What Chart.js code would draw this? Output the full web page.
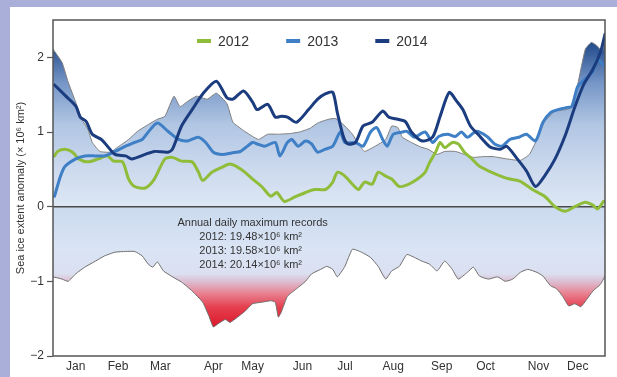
<!DOCTYPE html>
<html>
<head>
<meta charset="utf-8">
<script src="https://cdn.jsdelivr.net/npm/chart.js@4.4.1/dist/chart.umd.min.js"></script>
<style>
  html, body { margin: 0; padding: 0; background: #a9afd9; }
  body { width: 617px; height: 377px; position: relative; overflow: hidden; }
  #panel { position: absolute; left: 10px; top: 7px; width: 607px; height: 370px; background: #fff; }
</style>
</head>
<body>
<div id="panel"><canvas id="iceChart" width="607" height="370"></canvas></div>
<script>
// day of year -> extent anomaly (10^6 km^2)
const day2012 = [1,3,8,13,17,23,30,36,40,46,50,54,61,67,74,79,85,92,96,99,105,112,117,122,127,132,138,144,148,153,160,167,173,180,185,188,193,198,202,206,211,215,220,224,229,235,241,246,249,253,256,259,264,268,272,277,282,289,296,302,309,317,325,332,339,345,352,357,360,364];
const anom2012 = [0.68,0.74,0.77,0.73,0.64,0.60,0.64,0.68,0.61,0.60,0.37,0.27,0.25,0.37,0.64,0.66,0.61,0.60,0.47,0.35,0.46,0.53,0.57,0.53,0.46,0.37,0.27,0.14,0.19,0.07,0.13,0.19,0.23,0.23,0.33,0.46,0.41,0.30,0.23,0.33,0.30,0.46,0.41,0.37,0.27,0.30,0.37,0.46,0.59,0.73,0.86,0.79,0.86,0.84,0.73,0.64,0.54,0.47,0.41,0.37,0.34,0.23,0.14,0.00,-0.06,0.00,0.06,0.02,-0.03,0.07];

const day2013 = [1,5,8,15,21,28,34,41,48,54,59,63,69,76,83,89,96,101,106,112,118,124,132,135,140,147,150,155,158,162,167,171,175,180,185,190,193,200,205,210,214,218,221,225,231,234,239,246,251,255,261,266,270,274,280,287,292,297,302,308,313,319,324,329,334,340,343,347,352,357,360,364];
const anom2013 = [0.14,0.41,0.54,0.64,0.68,0.68,0.68,0.74,0.81,0.86,0.90,1.00,1.12,1.01,0.90,0.88,0.93,0.86,0.73,0.70,0.72,0.74,0.86,0.84,0.81,0.86,0.68,0.86,0.90,0.81,0.88,0.84,0.73,0.77,0.81,1.00,0.86,0.86,0.81,1.00,1.06,0.90,0.81,0.97,1.00,1.01,0.93,1.00,0.86,0.94,0.97,0.94,1.00,0.93,1.01,0.94,0.84,0.81,0.90,0.93,0.97,0.88,1.13,1.26,1.30,1.33,1.34,1.61,1.71,1.81,1.97,1.90];

const day2014 = [1,8,15,18,22,26,32,36,41,48,52,61,67,76,79,85,92,99,108,115,119,126,132,135,142,147,151,155,161,169,175,180,185,188,192,195,200,205,211,218,222,228,233,237,244,251,256,262,267,271,276,281,289,296,300,307,313,319,325,332,339,345,351,357,362,365];
const anom2014 = [1.63,1.49,1.35,1.20,1.14,0.97,0.90,0.81,0.70,0.68,0.64,0.70,0.74,0.73,0.77,1.08,1.30,1.51,1.68,1.46,1.44,1.55,1.40,1.30,1.37,1.20,1.21,1.20,1.13,1.30,1.44,1.51,1.53,1.26,0.94,0.84,0.86,1.08,1.13,1.28,1.20,1.17,1.14,1.00,0.88,0.93,1.21,1.53,1.41,1.30,1.08,0.97,0.80,0.77,0.81,0.64,0.48,0.27,0.41,0.64,0.97,1.33,1.64,1.84,2.07,2.31];

// highest and lowest daily anomaly on record
const dayHigh = [0,6,10,15,19,23,26,31,38,43,50,56,63,69,74,80,84,89,95,102,108,115,119,126,132,136,142,149,157,163,170,175,182,187,193,198,202,206,213,220,224,228,231,237,243,248,254,259,266,272,278,284,291,300,309,315,320,325,332,339,343,347,352,356,360,363,365];
const highRecord = [2.11,1.93,1.67,1.40,1.17,1.04,0.86,0.74,0.73,0.80,0.90,1.01,1.10,1.17,1.21,1.48,1.34,1.41,1.48,1.44,1.52,1.38,1.13,1.02,0.94,0.90,0.97,0.97,0.98,1.00,1.05,1.12,1.17,1.18,1.08,0.97,0.84,0.74,0.81,0.90,1.08,1.06,0.93,0.86,0.80,0.77,0.70,0.74,0.74,0.70,0.66,0.67,0.67,0.64,0.62,0.70,0.90,1.14,1.28,1.30,1.33,1.64,2.11,2.20,2.15,2.08,2.21];

const dayLow = [0,6,10,15,21,28,34,41,48,54,59,63,66,69,73,79,85,92,99,103,106,109,114,117,122,127,132,138,144,147,149,151,155,161,167,171,177,181,185,188,193,198,204,210,215,220,224,229,234,239,244,249,254,259,264,268,274,278,282,288,294,299,304,309,314,320,324,329,333,337,341,345,349,353,357,362,365];
const lowRecord = [-0.94,-0.97,-1.00,-0.90,-0.81,-0.73,-0.66,-0.61,-0.60,-0.60,-0.66,-0.77,-0.81,-0.74,-0.86,-0.94,-1.01,-1.13,-1.28,-1.46,-1.61,-1.57,-1.51,-1.55,-1.48,-1.40,-1.30,-1.28,-1.26,-1.28,-1.48,-1.41,-1.20,-1.10,-1.00,-0.90,-0.84,-0.80,-0.84,-0.94,-0.80,-0.57,-0.61,-0.68,-0.80,-0.97,-0.86,-0.80,-0.64,-0.68,-0.73,-0.77,-0.86,-0.73,-0.84,-0.97,-0.88,-0.81,-0.93,-0.97,-0.94,-1.00,-0.97,-0.88,-0.84,-0.88,-0.93,-1.06,-1.10,-1.20,-1.33,-1.30,-1.34,-1.24,-1.13,-1.04,-0.93];

const monthNames = ['Jan','Feb','Mar','Apr','May','Jun','Jul','Aug','Sep','Oct','Nov','Dec'];
const monthPos = [15,43,71,106,132,165,193,225,257,286,321,347];
const yTicks = [2, 1, 0, -1, -2];

const recordYears = ['2012', '2013', '2014'];
const recordMax = [19.48, 19.58, 20.14];

const toPoints = (days, vals) => days.map((d, i) => ({ x: d, y: vals[i] }));

const FONT = "'Liberation Sans', Arial, sans-serif";
Chart.defaults.font.family = FONT;
Chart.defaults.color = '#333';

function highFill(context) {
  const { ctx, chartArea, scales } = context.chart;
  if (!chartArea) return 'rgba(180,200,228,0.8)';
  const y = scales.y;
  const g = ctx.createLinearGradient(0, y.getPixelForValue(2.2), 0, y.getPixelForValue(0));
  g.addColorStop(0, '#21498a');
  g.addColorStop(0.25, '#7797c8');
  g.addColorStop(0.5, '#b1c6e3');
  g.addColorStop(0.78, '#cddaee');
  g.addColorStop(1, '#dde7f4');
  return g;
}

function lowFill(context) {
  const { ctx, chartArea, scales } = context.chart;
  if (!chartArea) return 'rgba(210,222,240,0.8)';
  const y = scales.y;
  const g = ctx.createLinearGradient(0, y.getPixelForValue(0), 0, y.getPixelForValue(-1.6));
  g.addColorStop(0, '#cbdaef');
  g.addColorStop(0.35, '#d9e4f4');
  g.addColorStop(0.56, '#dbe0f1');
  g.addColorStop(0.63, '#dcbcd0');
  g.addColorStop(0.72, '#e88595');
  g.addColorStop(0.84, '#e5404f');
  g.addColorStop(1, '#dc1a2c');
  return g;
}

// zero line goes above the envelopes, below the yearly lines
const zeroLine = {
  id: 'zeroLine',
  afterDatasetDraw(chart, args) {
    if (args.index !== 4) return;
    const { ctx, chartArea, scales } = chart;
    const y0 = scales.y.getPixelForValue(0);
    ctx.save();
    ctx.strokeStyle = '#4a4a4a';
    ctx.lineWidth = 1.5;
    ctx.beginPath();
    ctx.moveTo(chartArea.left, y0);
    ctx.lineTo(chartArea.right, y0);
    ctx.stroke();
    ctx.restore();
  }
};

// box around the plot, the legend row and the record note
const frameAndNote = {
  id: 'frameAndNote',
  afterDatasetsDraw(chart) {
    const { ctx, chartArea, scales } = chart;
    ctx.save();
    ctx.strokeStyle = '#555';
    ctx.lineWidth = 1.5;
    ctx.strokeRect(chartArea.left, chartArea.top, chartArea.right - chartArea.left, chartArea.bottom - chartArea.top);

    // legend: short thick stroke then the year
    ctx.font = '14px ' + FONT;
    ctx.textAlign = 'left';
    ctx.textBaseline = 'middle';
    let lx = chartArea.left + 144;
    const ly = chartArea.top + 21;
    chart.data.datasets.slice(0, 3).forEach(ds => {
      ctx.strokeStyle = ds.borderColor;
      ctx.lineWidth = 4;
      ctx.lineCap = 'butt';
      ctx.beginPath();
      ctx.moveTo(lx, ly);
      ctx.lineTo(lx + 14, ly);
      ctx.stroke();
      ctx.fillStyle = '#333';
      ctx.fillText(ds.label, lx + 21, ly + 1);
      lx += 21 + ctx.measureText(ds.label).width + 37;
    });

    const cx = scales.x.getPixelForValue(132);
    let y = scales.y.getPixelForValue(0) + 16;
    ctx.fillStyle = '#333';
    ctx.font = '11px ' + FONT;
    ctx.textAlign = 'center';
    ctx.fillText('Annual daily maximum records', cx, y);
    recordYears.forEach((yr, i) => {
      y += 14;
      ctx.fillText(yr + ': ' + recordMax[i].toFixed(2) + '\u00d710\u2076 km\u00b2', cx - 2, y);
    });
    ctx.restore();
  }
};

const lineStyle = { pointRadius: 0, borderWidth: 3, tension: 0.25, fill: false, borderJoinStyle: 'round', borderCapStyle: 'round' };

new Chart(document.getElementById('iceChart'), {
  type: 'line',
  data: {
    datasets: [
      { label: '2012', data: toPoints(day2012, anom2012), borderColor: '#8fbd3a', order: 3, ...lineStyle },
      { label: '2013', data: toPoints(day2013, anom2013), borderColor: '#3f7fc6', order: 2, ...lineStyle },
      { label: '2014', data: toPoints(day2014, anom2014), borderColor: '#1b3c7e', order: 1, ...lineStyle },
      { label: 'record high', data: toPoints(dayHigh, highRecord), borderColor: '#7d7d7d', borderWidth: 1, backgroundColor: highFill, fill: 'origin', pointRadius: 0, tension: 0.15, order: 6 },
      { label: 'record low', data: toPoints(dayLow, lowRecord), borderColor: '#6e6e6e', borderWidth: 1, backgroundColor: lowFill, fill: 'origin', pointRadius: 0, tension: 0.15, order: 5 }
    ]
  },
  options: {
    responsive: false,
    animation: false,
    events: [],
    layout: { padding: { top: 13, right: 12, left: 0, bottom: 0 } },
    scales: {
      x: {
        type: 'linear', min: 0, max: 365,
        grid: { display: false, drawTicks: false },
        border: { display: false },
        afterBuildTicks: s => { s.ticks = monthPos.map(v => ({ value: v })); },
        ticks: { autoSkip: false, maxRotation: 0, padding: 3, color: '#333', font: { size: 12 }, callback: (v, i) => monthNames[i] },
        afterFit: s => { s.height = 21; }
      },
      y: {
        min: -2, max: 2.5,
        afterBuildTicks: s => { s.ticks = yTicks.map(v => ({ value: v })); },
        grid: { drawOnChartArea: false, tickColor: '#555', tickLength: 6, tickWidth: 1.2 },
        border: { display: false },
        ticks: { color: '#333', font: { size: 12 }, padding: 3, callback: v => (v < 0 ? '\u2212' + Math.abs(v) : String(v)) },
        title: { display: true, text: 'Sea ice extent anomaly (\u00d7 10\u2076 km\u00b2)', color: '#333', font: { size: 11 }, padding: { top: 4, bottom: 2 } },
        afterFit: s => { s.width = 43; }
      }
    },
    plugins: {
      tooltip: { enabled: false },
      legend: { display: false }
    }
  },
  plugins: [zeroLine, frameAndNote]
});
</script>
</body>
</html>
